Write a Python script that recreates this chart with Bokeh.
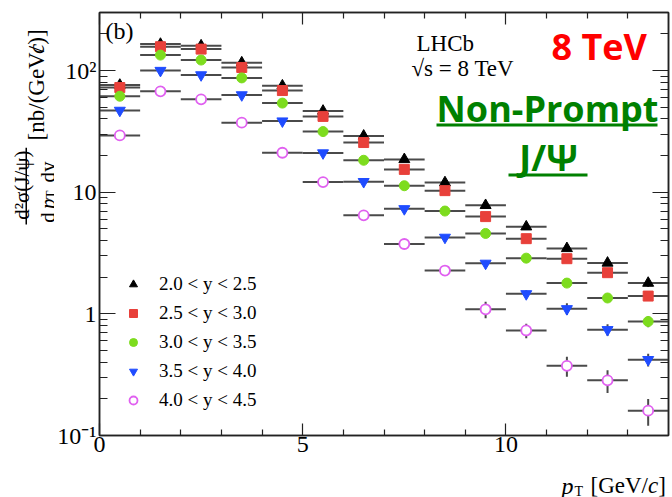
import numpy as np
from math import pi
from bokeh.plotting import figure
from bokeh.layouts import row, column
from bokeh.models import (Range1d, FixedTicker, LinearAxis, LogAxis, Label,
                          Legend, LegendItem, BoxAnnotation, ColumnDataSource)
from bokeh.core.properties import value
from bokeh.embed import file_html
from bokeh.resources import INLINE

# ---------------- data ----------------
pt_lo = [0, 1, 2, 3, 4, 5, 6, 7, 8, 9, 10, 11, 12, 13]
pt_hi = [1, 2, 3, 4, 5, 6, 7, 8, 9, 10, 11, 12, 13, 14]
pt_c = [0.5, 1.5, 2.5, 3.5, 4.5, 5.5, 6.5, 7.5, 8.5, 9.5, 10.5, 11.5, 12.5, 13.5]

y20_25 = [76, 165, 160, 116, 75, 46.5, 29, 18.6, 12.0, 7.8, 5.2, 3.45, 2.62, 1.79]
y25_30 = [72.5, 157, 150, 106, 68.5, 42, 25.6, 15.4, 10.3, 6.3, 4.15, 2.84, 2.18, 1.40]
y30_35 = [61.5, 134, 122, 87, 54, 31.5, 18.3, 11.3, 7.0, 4.58, 2.87, 1.79, 1.35, 0.865]
y35_40 = [47, 100, 92, 63, 38.4, 21, 12.2, 7.3, 4.25, 2.6, 1.46, 1.10, 0.74, 0.42]
y40_45 = [29.3, 67.5, 58, 37.3, 21.1, 12.1, 6.45, 3.75, 2.27, 1.09, 0.73, 0.374, 0.284, 0.16]

e20_25 = [4, 7, 7, 5, 3, 2, 1.2, 0.8, 0.5, 0.35, 0.25, 0.18, 0.15, 0.13]
e25_30 = [3.5, 6, 6, 4, 2.7, 1.7, 1.0, 0.6, 0.4, 0.3, 0.2, 0.15, 0.13, 0.11]
e30_35 = [3, 5, 5, 3.5, 2, 1.2, 0.7, 0.45, 0.3, 0.2, 0.15, 0.1, 0.1, 0.09]
e35_40 = [2.5, 4, 4, 2.5, 1.5, 0.9, 0.5, 0.3, 0.2, 0.14, 0.1, 0.12, 0.08, 0.05]
e40_45 = [1.5, 3, 2.5, 1.5, 1.0, 0.6, 0.3, 0.2, 0.15, 0.17, 0.1, 0.07, 0.06, 0.04]

series_labels = ["2.0 < y < 2.5", "2.5 < y < 3.0", "3.0 < y < 3.5",
                 "3.5 < y < 4.0", "4.0 < y < 4.5"]

x_ticks = [0, 5, 10]
x_tick_labels = ["0", "5", "10"]
y_ticks = [0.1, 1, 10, 100]
y_tick_labels = ["10\u207b\u00b9", "1", "10", "10\u00b2"]

# ---------------- layout constants ----------------
W, H = 672, 497
YLW = 54            # width of the y-title strip
H1 = 463            # height of the main row
FL, FR, FT, FB = 98, 668, 12, 435
SERIF = "Liberation Serif"

p = figure(width=W - YLW, height=H1, y_axis_type="log",
           x_range=Range1d(0, 14), y_range=Range1d(0.1, 300),
           output_backend="svg", toolbar_location=None,
           min_border_left=FL - YLW, min_border_right=W - FR,
           min_border_top=FT, min_border_bottom=H1 - FB)
p.grid.visible = False
p.outline_line_color = "#222222"
p.outline_line_width = 1.5
p.background_fill_color = "white"
p.border_fill_color = "white"

x_minor = [1, 2, 3, 4, 6, 7, 8, 9, 11, 12, 13]
y_minor = [0.2, 0.3, 0.4, 0.5, 0.6, 0.7, 0.8, 0.9,
           2, 3, 4, 5, 6, 7, 8, 9, 20, 30, 40, 50, 60, 70, 80, 90, 200, 300]


def style_axis(ax, major_in, minor_in, show_labels, ticks=None):
    ax.major_tick_in = major_in
    ax.major_tick_out = 0
    ax.minor_tick_in = minor_in
    ax.minor_tick_out = 0
    ax.axis_line_color = "#222222"
    ax.axis_line_width = 1.5
    ax.major_tick_line_color = "#222222"
    ax.minor_tick_line_color = "#222222"
    ax.major_tick_line_width = 1.2
    ax.minor_tick_line_width = 1.2
    if show_labels:
        ax.major_label_text_font = SERIF
        ax.major_label_text_font_size = "24px"
        ax.major_label_text_color = "black"
    else:
        ax.major_label_overrides = {t: " " for t in ticks}
        ax.major_label_text_font_size = "1px"
        ax.major_label_standoff = 0


xb = p.xaxis[0]
xb.ticker = FixedTicker(ticks=x_ticks, minor_ticks=x_minor)
xb.major_label_overrides = dict(zip(x_ticks, x_tick_labels))
xb.major_label_standoff = 1
style_axis(xb, 12, 6, True)

yl = p.yaxis[0]
yl.ticker = FixedTicker(ticks=y_ticks, minor_ticks=y_minor)
yl.major_label_overrides = dict(zip(y_ticks, y_tick_labels))
yl.major_label_standoff = 3
style_axis(yl, 16, 8, True)

xt = LinearAxis(ticker=FixedTicker(ticks=x_ticks, minor_ticks=x_minor))
style_axis(xt, 12, 6, False, x_ticks)
p.add_layout(xt, "above")
yr = LogAxis(ticker=FixedTicker(ticks=y_ticks, minor_ticks=y_minor))
style_axis(yr, 16, 8, False, y_ticks)
p.add_layout(yr, "right")

# ---------------- series ----------------
styles = [
    dict(marker="triangle", size=11, fill_color="black", line_color="black"),
    dict(marker="square", size=10, fill_color="#e8403a", line_color="#e8403a"),
    dict(marker="circle", size=10, fill_color="#7ddc1e", line_color="#7ddc1e"),
    dict(marker="inverted_triangle", size=11, fill_color="#1f4cff", line_color="#1f4cff"),
    dict(marker="circle", size=10, fill_color="white", line_color="#e060f0", line_width=1.8),
]
vals = [y20_25, y25_30, y30_35, y35_40, y40_45]
errs = [e20_25, e25_30, e30_35, e35_40, e40_45]

items = []
for lab, v, e, st in zip(series_labels, vals, errs, styles):
    v = np.array(v, dtype=float)
    e = np.array(e, dtype=float)
    src = ColumnDataSource(dict(x=pt_c, lo=pt_lo, hi=pt_hi, y=v, ylo=v - e, yhi=v + e))
    p.segment(x0="lo", y0="y", x1="hi", y1="y", source=src,
              line_color="#4a4a4a", line_width=2)
    p.segment(x0="x", y0="ylo", x1="x", y1="yhi", source=src,
              line_color="#4a4a4a", line_width=2)
    r = p.scatter(x="x", y="y", source=src, **st)
    items.append(LegendItem(label=lab, renderers=[r]))

legend = Legend(items=items, location=(24, 21), border_line_color=None,
                background_fill_alpha=0, margin=0, padding=0, spacing=1,
                glyph_width=20, glyph_height=28, label_height=28,
                label_standoff=16, label_text_font=SERIF,
                label_text_font_size="19px", label_text_color="black")
p.add_layout(legend)

LABEL_SHIFT = 12  # Label baseline correction (px)


def add_text(txt, cx, cy, size, font=SERIF, style="normal", color="black",
             align="left"):
    p.add_layout(Label(x=cx - FL, y=FB - (cy - LABEL_SHIFT), x_units="screen",
                       y_units="screen", text=txt, text_font=font,
                       text_font_size=f"{size}px", text_font_style=style,
                       text_color=color, text_align=align,
                       text_baseline="alphabetic"))


def add_box(cl, cr, ct, cb, color):
    p.add_layout(BoxAnnotation(left=cl - FL, right=cr - FL, top=FB - ct, bottom=FB - cb,
                               left_units="screen", right_units="screen",
                               top_units="screen", bottom_units="screen",
                               fill_color=color, fill_alpha=1.0, line_color=None))


add_text("(b)", 104, 42, 24)
add_text("LHCb", 415, 55, 23)
add_text("\u221as = 8 TeV", 410, 80, 23)
add_text("8 TeV", 550, 58, 36, font="Open Sans", style="bold", color="#ff0000")
add_text("Non-Prompt", 546, 120, 36, font="Open Sans", style="bold",
         color="#008000", align="center")
add_box(435, 656, 123, 126, "#008000")
add_text("J/\u03a8", 547, 169, 36, font="Open Sans", style="bold",
         color="#008000", align="center")
add_box(507, 586, 173, 176, "#008000")


# ---------------- side strips holding the axis titles ----------------
def strip(width, height):
    f = figure(width=width, height=height, x_range=Range1d(0, width),
               y_range=Range1d(0, height), output_backend="svg",
               toolbar_location=None, x_axis_location=None, y_axis_location=None,
               min_border=0, min_border_left=0, min_border_right=0,
               min_border_top=0, min_border_bottom=0)
    f.grid.visible = False
    f.outline_line_color = None
    f.background_fill_color = "white"
    f.border_fill_color = "white"
    return f


def gtext(f, top, txt, cx, cy, size, style="normal", align="left", angle=0.0):
    # cx, cy: page pixel position of the text anchor; top: page y of strip bottom
    f.text(x=[cx], y=[top - cy], text=[txt], text_font=value(SERIF),
           text_font_size=value(f"{size}px"), text_font_style=style,
           text_color="black", text_align=align, text_baseline="alphabetic",
           angle=angle)


ylab = strip(YLW, H1)
gtext(ylab, H1, "d\u00b2\u03c3(J/\u03c8)", 21, 189, 21, align="center", angle=pi / 2)
ylab.add_layout(BoxAnnotation(left=25, right=26.5, bottom=H1 - 232, top=H1 - 148,
                              fill_color="black", fill_alpha=1.0, line_color=None))
gtext(ylab, H1, "d", 47, 230, 21, angle=pi / 2)
gtext(ylab, H1, "p", 47, 215, 21, style="italic", angle=pi / 2)
gtext(ylab, H1, "T", 51, 204, 14, angle=pi / 2)
gtext(ylab, H1, "dy", 47, 186, 21, angle=pi / 2)
gtext(ylab, H1, "[nb/(GeV/", 36, 140, 23, angle=pi / 2)
gtext(ylab, H1, "c", 36, 45.5, 23, style="italic", angle=pi / 2)
gtext(ylab, H1, ")]", 36, 35.3, 23, angle=pi / 2)

XH = H - H1
xlab = strip(W, XH)
gtext(xlab, H, "p", 561, 485, 24, style="italic")
gtext(xlab, H, "T", 574, 491, 14)
gtext(xlab, H, "[GeV/", 590, 485, 23)
gtext(xlab, H, "c", 647.5, 485, 23, style="italic")
gtext(xlab, H, "]", 657.7, 485, 23)

root = column(row(ylab, p), xlab)
open("out.html", "w").write(file_html(root, INLINE))
